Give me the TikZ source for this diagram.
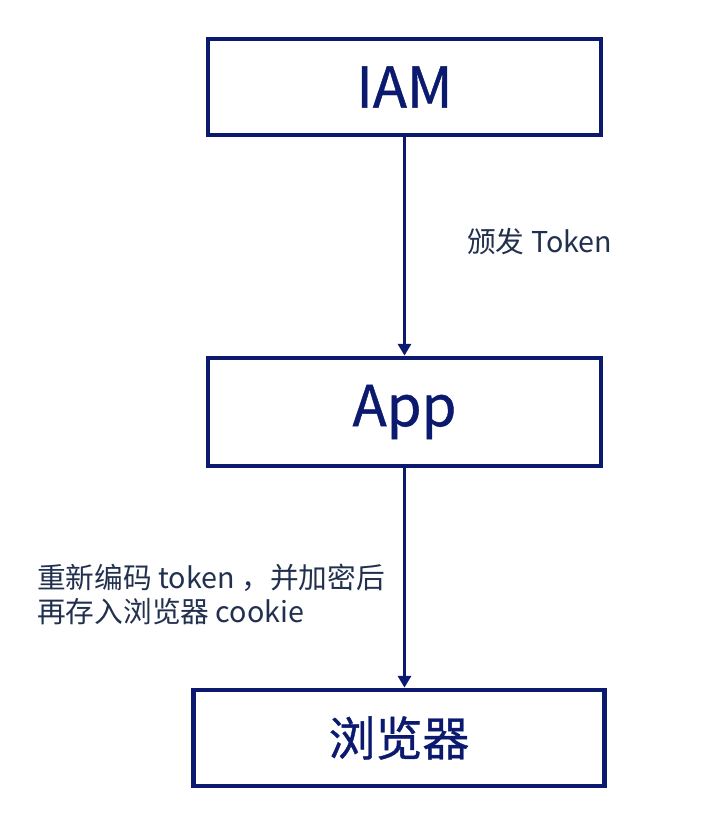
\documentclass[tikz,border=0pt]{standalone}
\usepackage{fontspec}
\setmainfont{Noto Sans CJK SC}
\newfontfamily\heavyfont{Noto Sans CJK SC}[FakeBold=0.8]
\usetikzlibrary{arrows.meta}
\definecolor{navy}{HTML}{0B1A6E}
\definecolor{labelink}{HTML}{22304F}

\begin{document}
\begin{tikzpicture}[x=0.03cm, y=-0.03cm, >={Triangle[length=10pt,width=11pt]},
  box/.style={draw=navy, line width=4pt, minimum width=393*0.03cm, minimum height=96*0.03cm,
    inner sep=0pt, text=navy, font=\heavyfont\fontsize{48}{54}\selectfont},
  flow/.style={->, draw=navy, line width=3.1pt},
  note/.style={text=labelink, font=\fontsize{24.5}{31}\selectfont, inner sep=0pt, align=left}]
  \useasboundingbox[fill=white] (0,0) rectangle (715,814);
  \node[box] (iam)  at (404.5,87)  {IAM};
  \node[box, minimum height=108*0.03cm] (app) at (404.5,412) {App};
  \node[box, minimum width=411*0.03cm, font=\heavyfont\fontsize{40}{46}\selectfont] (brow) at (399,738) {浏览器};
  \draw[flow] (iam) -- (app);
  \draw[flow] (app) -- (brow.north -| app.south);
  \node[note, anchor=west] (issue) at (467,242) {颁发 Token};
  \node[note, anchor=west] (store) at (37,594) {重新编码 token ，并加密后\\[-2pt]再存入浏览器 cookie};
\end{tikzpicture}
\end{document}
